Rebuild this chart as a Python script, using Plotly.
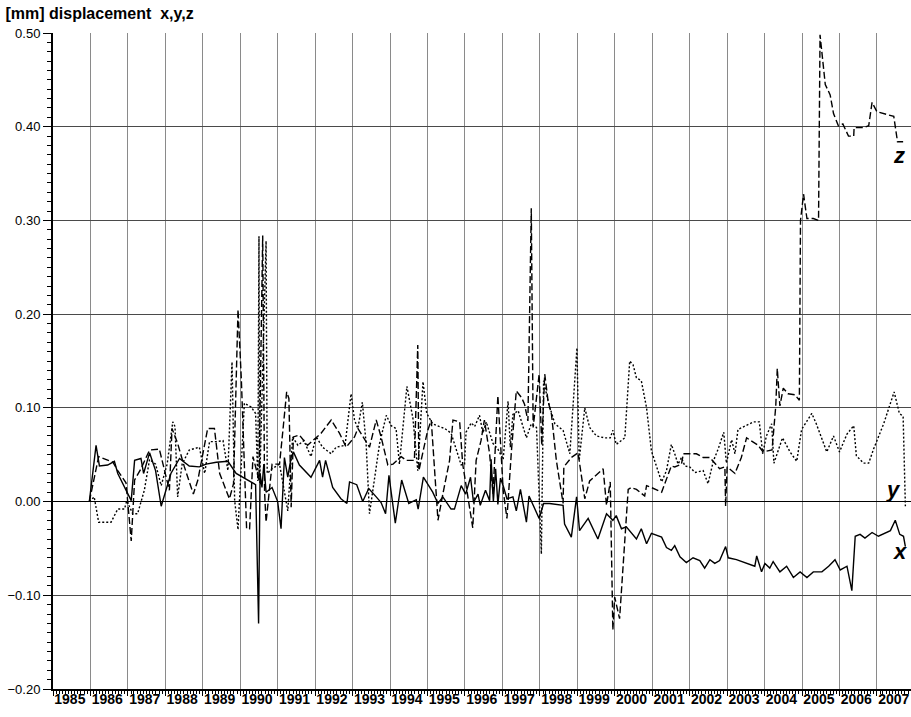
import pandas as pd
import plotly.graph_objects as go

# decimal years and displacement [mm]
x_years = [1985.97, 1986.15, 1986.24, 1986.46, 1986.64, 1986.73, 1987.09, 1987.18, 1987.35, 1987.42,
           1987.58, 1987.74, 1987.89, 1988.15, 1988.38, 1988.64, 1988.91, 1989.09, 1989.36, 1989.67,
           1989.89, 1990.25, 1990.41, 1990.49, 1990.53, 1990.58, 1990.63, 1990.69, 1990.85, 1991.00,
           1991.09, 1991.18, 1991.27, 1991.36, 1991.42, 1991.58, 1991.89, 1992.12, 1992.20, 1992.28,
           1992.47, 1992.69, 1992.85, 1992.92, 1993.11, 1993.27, 1993.43, 1993.63, 1993.76, 1993.88,
           1993.97, 1994.14, 1994.31, 1994.50, 1994.70, 1994.75, 1994.89, 1995.14, 1995.28, 1995.41,
           1995.63, 1995.72, 1995.90, 1996.02, 1996.15, 1996.23, 1996.35, 1996.41, 1996.55, 1996.66,
           1996.70, 1996.76, 1996.82, 1996.88, 1996.95, 1997.02, 1997.12, 1997.28, 1997.37, 1997.48,
           1997.64, 1997.71, 1997.84, 1997.98, 1998.10, 1998.26, 1998.62, 1998.66, 1998.84, 1998.98,
           1999.06, 1999.29, 1999.55, 1999.78, 1999.95, 2000.04, 2000.18, 2000.31, 2000.58, 2000.71,
           2000.85, 2000.98, 2001.25, 2001.38, 2001.51, 2001.60, 2001.74, 2001.91, 2002.09, 2002.27,
           2002.40, 2002.54, 2002.67, 2002.80, 2002.96, 2003.03, 2003.25, 2003.52, 2003.74, 2003.79,
           2003.92, 2004.01, 2004.14, 2004.23, 2004.41, 2004.59, 2004.77, 2004.95, 2005.13, 2005.30,
           2005.53, 2005.71, 2005.88, 2006.02, 2006.20, 2006.33, 2006.42, 2006.55, 2006.68, 2006.87,
           2007.04, 2007.36, 2007.49, 2007.61, 2007.71, 2007.76]
x_vals = [0.000, 0.060, 0.038, 0.039, 0.043, 0.030, 0.001, 0.044, 0.046, 0.030,
          0.052, 0.033, -0.005, 0.030, 0.046, 0.038, 0.037, 0.040, 0.042, 0.043,
          0.030, 0.022, 0.018, -0.130, 0.030, 0.015, 0.040, 0.010, 0.015, 0.000,
          -0.029, 0.047, 0.026, 0.047, 0.053, 0.039, 0.026, 0.044, 0.026, 0.044,
          0.015, 0.003, -0.002, 0.021, 0.018, 0.000, 0.014, 0.005, -0.001, -0.013,
          0.028, -0.023, 0.023, -0.002, 0.002, -0.008, 0.026, 0.010, -0.002, 0.005,
          -0.008, -0.008, 0.017, 0.008, 0.026, -0.001, 0.008, -0.004, 0.012, 0.001,
          0.045, 0.000, 0.035, -0.003, 0.025, 0.017, 0.003, 0.005, -0.010, 0.013,
          -0.022, 0.006, -0.006, -0.018, -0.002, -0.002, -0.004, -0.024, -0.038, 0.005,
          -0.031, -0.018, -0.040, -0.013, -0.020, -0.015, -0.029, -0.027, -0.040, -0.029,
          -0.045, -0.034, -0.038, -0.049, -0.052, -0.047, -0.059, -0.065, -0.060, -0.063,
          -0.071, -0.062, -0.066, -0.063, -0.048, -0.060, -0.062, -0.066, -0.069, -0.058,
          -0.075, -0.066, -0.071, -0.064, -0.075, -0.069, -0.081, -0.075, -0.081, -0.075,
          -0.075, -0.069, -0.062, -0.073, -0.069, -0.095, -0.037, -0.035, -0.039, -0.033,
          -0.037, -0.031, -0.020, -0.035, -0.037, -0.048]

y_years = [1985.97, 1986.10, 1986.22, 1986.55, 1986.73, 1986.91, 1986.97, 1987.13, 1987.26, 1987.44,
           1987.58, 1987.74, 1987.89, 1988.05, 1988.20, 1988.26, 1988.33, 1988.45, 1988.64, 1988.91,
           1989.05, 1989.18, 1989.36, 1989.54, 1989.67, 1989.78, 1989.85, 1989.94, 1990.11, 1990.29,
           1990.41, 1990.47, 1990.50, 1990.52, 1990.69, 1990.72, 1990.85, 1991.05, 1991.27, 1991.40,
           1991.54, 1991.70, 1991.89, 1992.03, 1992.20, 1992.43, 1992.56, 1992.80, 1992.96, 1993.05,
           1993.14, 1993.26, 1993.36, 1993.45, 1993.58, 1993.72, 1993.90, 1994.03, 1994.16, 1994.25,
           1994.45, 1994.61, 1994.74, 1994.88, 1994.98, 1995.14, 1995.32, 1995.46, 1995.63, 1995.90,
           1995.99, 1996.03, 1996.17, 1996.26, 1996.39, 1996.48, 1996.57, 1996.75, 1996.88, 1997.02,
           1997.15, 1997.21, 1997.28, 1997.42, 1997.64, 1997.77, 1997.91, 1998.04, 1998.10, 1998.22,
           1998.40, 1998.62, 1998.80, 1998.99, 1999.05, 1999.20, 1999.33, 1999.51, 1999.73, 1999.88,
           1999.95, 2000.04, 2000.27, 2000.40, 2000.49, 2000.58, 2000.71, 2000.85, 2000.98, 2001.11,
           2001.25, 2001.38, 2001.51, 2001.60, 2001.69, 2001.78, 2001.87, 2002.00, 2002.14, 2002.36,
           2002.49, 2002.63, 2002.76, 2002.91, 2002.98, 2003.12, 2003.21, 2003.29, 2003.61, 2003.71,
           2003.86, 2003.95, 2004.05, 2004.19, 2004.25, 2004.48, 2004.68, 2004.86, 2004.99, 2005.26,
           2005.38, 2005.48, 2005.66, 2005.84, 2006.00, 2006.20, 2006.38, 2006.45, 2006.64, 2006.78,
           2006.91, 2007.18, 2007.46, 2007.60, 2007.70, 2007.76]
y_vals = [0.000, 0.005, -0.022, -0.022, -0.008, -0.008, 0.001, -0.013, -0.013, 0.012,
          0.045, 0.040, 0.017, 0.040, 0.085, 0.080, 0.005, 0.040, 0.055, 0.058,
          0.030, 0.064, 0.064, 0.065, 0.033, 0.149, 0.001, -0.030, 0.105, 0.101,
          0.094, 0.022, 0.283, 0.020, 0.278, 0.030, 0.035, 0.040, -0.010, 0.069,
          0.060, 0.065, 0.048, 0.069, 0.058, 0.051, 0.058, 0.060, 0.115, 0.087,
          0.078, 0.106, 0.062, -0.013, 0.023, 0.062, 0.092, 0.081, 0.078, 0.040,
          0.123, 0.089, 0.033, 0.128, 0.094, 0.083, 0.080, 0.078, 0.073, 0.039,
          0.040, 0.074, 0.084, 0.080, 0.092, 0.073, 0.085, 0.062, 0.056, 0.045,
          0.107, 0.058, 0.093, 0.097, 0.068, 0.083, 0.079, -0.056, 0.129, 0.107,
          0.083, 0.076, 0.051, 0.164, 0.044, 0.100, 0.079, 0.070, 0.068, 0.068,
          0.076, 0.061, 0.068, 0.150, 0.146, 0.132, 0.129, 0.100, 0.054, 0.037,
          0.021, 0.033, 0.061, 0.051, 0.040, 0.047, 0.038, 0.037, 0.031, 0.033,
          0.019, 0.043, 0.056, 0.074, 0.041, 0.066, 0.051, 0.077, 0.083, 0.085,
          0.085, 0.051, 0.070, 0.083, 0.041, 0.068, 0.053, 0.043, 0.077, 0.094,
          0.083, 0.072, 0.053, 0.070, 0.053, 0.072, 0.081, 0.049, 0.041, 0.041,
          0.056, 0.083, 0.117, 0.094, 0.091, -0.005]

z_years = [1985.97, 1986.22, 1986.60, 1986.73, 1986.95, 1987.09, 1987.18, 1987.35, 1987.58, 1987.84,
           1988.11, 1988.18, 1988.33, 1988.51, 1988.75, 1988.87, 1989.13, 1989.31, 1989.45, 1989.71,
           1989.82, 1989.94, 1990.03, 1990.17, 1990.25, 1990.34, 1990.50, 1990.60, 1990.65, 1990.69,
           1990.85, 1991.05, 1991.14, 1991.24, 1991.30, 1991.36, 1991.42, 1991.58, 1991.80, 1992.03,
           1992.16, 1992.43, 1992.65, 1992.83, 1993.05, 1993.14, 1993.45, 1993.63, 1993.76, 1993.94,
           1994.08, 1994.30, 1994.43, 1994.65, 1994.74, 1994.77, 1995.00, 1995.10, 1995.19, 1995.28,
           1995.41, 1995.59, 1995.68, 1995.86, 1995.94, 1996.21, 1996.30, 1996.43, 1996.52, 1996.66,
           1996.75, 1996.88, 1997.02, 1997.12, 1997.24, 1997.37, 1997.51, 1997.59, 1997.68, 1997.77,
           1997.82, 1997.98, 1998.05, 1998.13, 1998.22, 1998.31, 1998.44, 1998.62, 1998.64, 1998.84,
           1999.02, 1999.20, 1999.33, 1999.51, 1999.69, 1999.78, 1999.88, 1999.95, 2000.00, 2000.13,
           2000.36, 2000.44, 2000.58, 2000.80, 2000.85, 2000.98, 2001.25, 2001.51, 2001.60, 2001.78,
           2001.83, 2002.00, 2002.18, 2002.36, 2002.54, 2002.80, 2002.94, 2002.96, 2003.00, 2003.21,
           2003.38, 2003.52, 2003.83, 2003.96, 2004.20, 2004.30, 2004.34, 2004.41, 2004.50, 2004.63,
           2004.81, 2004.93, 2004.96, 2005.04, 2005.13, 2005.30, 2005.44, 2005.48, 2005.62, 2005.75,
           2005.84, 2005.97, 2006.09, 2006.24, 2006.38, 2006.39, 2006.64, 2006.78, 2006.87, 2007.00,
           2007.27, 2007.45, 2007.55, 2007.70]
z_vals = [0.000, 0.048, 0.042, 0.033, 0.020, -0.042, 0.023, 0.035, 0.055, 0.056,
          0.012, 0.078, 0.062, 0.037, 0.008, 0.023, 0.078, 0.078, 0.030, 0.003,
          0.019, 0.205, 0.130, -0.029, -0.029, 0.048, 0.023, 0.284, 0.010, -0.022,
          0.040, 0.040, 0.076, 0.117, 0.110, -0.006, 0.069, 0.071, 0.060, 0.069,
          0.073, 0.087, 0.073, 0.058, 0.069, 0.078, 0.058, 0.087, 0.069, 0.039,
          0.040, 0.048, 0.044, 0.044, 0.167, 0.033, 0.075, 0.087, 0.037, -0.020,
          0.008, 0.044, 0.087, 0.085, 0.040, -0.028, 0.044, 0.065, 0.087, 0.051,
          0.008, 0.113, 0.012, -0.018, 0.054, 0.118, 0.111, 0.104, 0.086, 0.313,
          0.079, 0.136, 0.060, 0.136, 0.107, 0.093, 0.044, -0.002, 0.037, 0.047,
          0.052, 0.003, 0.022, 0.029, 0.035, -0.004, 0.021, -0.137, -0.102, -0.125,
          0.013, 0.015, 0.013, 0.006, 0.017, 0.015, 0.010, 0.038, 0.037, 0.040,
          0.051, 0.051, 0.051, 0.047, 0.047, 0.035, 0.037, -0.005, 0.037, 0.030,
          0.047, 0.068, 0.060, 0.053, 0.055, 0.102, 0.142, 0.102, 0.121, 0.115,
          0.114, 0.108, 0.300, 0.328, 0.302, 0.302, 0.300, 0.498, 0.445, 0.434,
          0.414, 0.401, 0.403, 0.390, 0.390, 0.399, 0.399, 0.401, 0.426, 0.416,
          0.413, 0.411, 0.384, 0.384]

tick_years = list(range(1985, 2008))

series_labels = ["x", "y", "z"]
label_years = [2007.61, 2007.43, 2007.59]
label_vals = [-0.053, 0.013, 0.369]


def to_dates(years):
    out = []
    for y in years:
        base = pd.Timestamp(int(y), 1, 1)
        out.append(base + pd.Timedelta(days=(y - int(y)) * 365.25))
    return out


x_range = to_dates([1985.0, 2007.91])

fig = go.Figure()
fig.add_trace(go.Scatter(x=to_dates(x_years), y=x_vals, mode="lines",
                         line=dict(color="black", width=1.4)))
fig.add_trace(go.Scatter(x=to_dates(y_years), y=y_vals, mode="lines",
                         line=dict(color="black", width=1.4, dash="2px,2px")))
fig.add_trace(go.Scatter(x=to_dates(z_years), y=z_vals, mode="lines",
                         line=dict(color="black", width=1.4, dash="7px,3px")))
# invisible trace so the label axis is drawn
fig.add_trace(go.Scatter(x=x_range, y=[None, None], xaxis="x2", mode="lines",
                         hoverinfo="skip"))

for name, yr, v in zip(series_labels, label_years, label_vals):
    fig.add_annotation(x=to_dates([yr])[0], y=v, text=f"<b><i>{name}</i></b>",
                       showarrow=False, font=dict(size=22, color="black"))

fig.update_layout(
    width=911, height=717,
    margin=dict(l=53, r=0, t=33, b=28),
    plot_bgcolor="white", paper_bgcolor="white",
    showlegend=False,
    font=dict(family="Liberation Sans, Arial", color="black"),
    title=dict(text="<b>[mm] displacement  x,y,z</b>", x=0.006, xanchor="left",
               y=0.981, yanchor="middle", font=dict(size=16)),
    xaxis=dict(
        type="date", range=x_range,
        tick0="1985-01-01", dtick="M12", showticklabels=False,
        ticks="outside", ticklen=5, tickcolor="black",
        showgrid=True, gridcolor="#8a8a8a", gridwidth=1,
        showline=True, linecolor="black", linewidth=2,
        minor=dict(dtick="M1", ticks="outside", ticklen=3, tickcolor="black", showgrid=False),
    ),
    # year labels sit in the middle of each year
    xaxis2=dict(
        type="date", range=x_range, overlaying="x", side="bottom",
        tickmode="array", tickvals=to_dates([y + 0.45 for y in tick_years]),
        ticktext=[str(y) for y in tick_years],
        ticks="", showgrid=False, showline=False, zeroline=False,
        ticklabeloverflow="allow",
        tickfont=dict(size=14, weight="bold"),
    ),
    yaxis=dict(
        range=[-0.2, 0.5], dtick=0.1, tickformat=".2f",
        ticks="outside", ticklen=8, tickcolor="black",
        tickfont=dict(size=13),
        showgrid=True, gridcolor="#4a4a4a", gridwidth=1,
        zeroline=True, zerolinecolor="black", zerolinewidth=1,
        showline=True, linecolor="black", linewidth=2,
        minor=dict(dtick=0.01, ticks="outside", ticklen=4, tickcolor="black", showgrid=False),
    ),
)

# page margin off so the 911x717 figure fills the window
fig.write_html("out.html", config={"displayModeBar": False},
               post_script="document.body.style.margin='0';")
